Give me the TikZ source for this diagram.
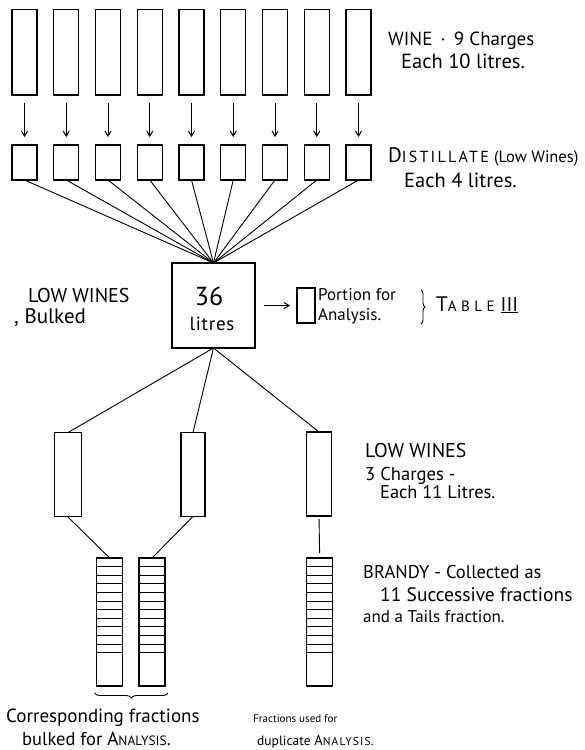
\documentclass[tikz,border=0pt]{standalone}
\usepackage{fontspec}
\setmainfont{PT Sans}
\usetikzlibrary{arrows.meta,decorations.pathreplacing,calc}
\newcommand\fsz[1]{\fontsize{#1}{#1}\selectfont}
\newcommand\spc[1]{\addfontfeature{LetterSpace=#1}}
\begin{document}
\begin{tikzpicture}[x=1pt,y=-1pt,
  vessel/.style={draw, line width=1.2pt, inner sep=0pt, outer sep=0pt},
  link/.style={line width=0.9pt},
  flow/.style={line width=1pt, -{Straight Barb[length=5pt,width=6pt]}},
  lbl/.style={anchor=base west, inner sep=0pt, font=\fsz{19}}]
\useasboundingbox (0,0) rectangle (584,750);
% wine and distillate
\foreach \i in {1,...,9} {
  \pgfmathsetmacro\xx{24.5+41.75*(\i-1)}
  \node[vessel, minimum width=25pt, minimum height=85.5pt] (w\i) at (\xx,52.25) {};
  \node[vessel, minimum width=25pt, minimum height=35pt] (d\i) at (\xx,162.5) {};
  \draw[flow, shorten <=8pt, shorten >=8pt] (w\i) -- (d\i);
}
% bulked low wines
\node[vessel, minimum width=83pt, minimum height=85pt] (big) at (213.5,305.5) {};
\node[inner sep=0pt, font=\fsz{26}, anchor=base] (n36) at (209,305) {36};
\node[inner sep=0pt, font=\fsz{19}\spc{4}, anchor=base] (nlit) at (212,330) {litres};
\foreach \i in {1,...,9} \draw[link] (d\i.south) -- (big.north);
% portion
\node[vessel, minimum width=18pt, minimum height=35pt] (port) at (306,305.5) {};
\draw[flow, shorten <=9pt, shorten >=7pt] (big.east) -- (port.west);
\node[lbl, font=\fsz{17}] (tport) at (318,300) {Portion for};
\node[lbl, font=\fsz{17}] (tanal) at (318,320) {Analysis.};
\draw[line width=0.9pt, decorate, decoration={brace, amplitude=4pt}] (421,290) -- (421,324);
\node[lbl] (ttab) at (436,311) {{\fsz{21}T}{\fsz{15}\spc{30}ABLE}\hspace{6pt}{\fsz{20}\underline{III}}};
% low wines charges
\node[vessel, minimum width=27pt, minimum height=84pt] (ca) at (67.7,474.7) {};
\node[vessel, minimum width=24pt, minimum height=84pt] (cb) at (193,474.5) {};
\node[vessel, minimum width=25pt, minimum height=84pt] (cc) at (319,474) {};
\draw[link] (big.south) -- (ca.north);
\draw[link] (big.south) -- (cb.north);
\draw[link] (big.south) -- (cc.north);
% fraction stacks
\node[vessel, minimum width=26pt, minimum height=128pt] (s1) at (109.7,622) {};
\node[vessel, minimum width=26pt, minimum height=128pt] (s2) at (152,622) {};
\node[vessel, minimum width=26pt, minimum height=128pt] (s3) at (319.7,622) {};
\foreach \s in {s1,s2,s3}
  \foreach \k in {1,...,11}
    \draw[line width=1pt] ($(\s.north west)+(0,8.6*\k)$) -- ($(\s.north east)+(0,8.6*\k)$);
\draw[link] (ca.south) -- (s1.north);
\draw[link] (cb.south) -- (s2.north);
\draw[link, shorten <=3pt, shorten >=5pt] (cc.south) -- (s3.north);
\draw[link, decorate, decoration={brace, amplitude=5pt, mirror}]
  ($(s1.south west)+(-2,7)$) -- ($(s2.south east)+(3,7)$);
% labels
\node[lbl] (t1) at (388,45) {WINE \,·\, 9 Charges};
\node[lbl, font=\fsz{20.5}] (t2) at (401,68) {Each 10 litres.};
\node[lbl] (t3) at (388,162) {{\fsz{21}D}{\fsz{16}\spc{14}ISTILLATE} {\fsz{16.5}(Low Wines)}};
\node[lbl, font=\fsz{20.5}] (t4) at (404,187) {Each 4 litres.};
\node[lbl, font=\fsz{20}] (t5) at (28,302) {LOW WINES};
\node[lbl, font=\fsz{21}] (t6) at (14,323) {, Bulked};
\node[lbl, font=\fsz{20}] (t7) at (365,457) {LOW WINES};
\node[lbl, font=\fsz{18.6}] (t8) at (365,480) {3 Charges -};
\node[lbl, font=\fsz{18.4}] (t9) at (380,498) {Each 11 Litres.};
\node[lbl, font=\fsz{18.5}] (t10) at (363,578) {BRANDY - Collected as};
\node[lbl, font=\fsz{19.5}] (t11) at (380,601) {11 Successive fractions};
\node[lbl, font=\fsz{17}] (t12) at (363,622) {and a Tails fraction.};
\node[lbl] (t13) at (6,722) {Corresponding fractions};
\node[lbl, font=\fsz{18.5}] (t14) at (22,745) {bulked for {\fsz{19}A}{\fsz{13.5}NALYSIS}.};
\node[lbl, font=\fsz{11}] (t15) at (253,722) {Fractions used for};
\node[lbl, font=\fsz{13.5}] (t16) at (257,745) {duplicate {\fsz{14.5}A}{\fsz{11.5}\spc{10}NALYSIS}.};
\end{tikzpicture}
\end{document}
